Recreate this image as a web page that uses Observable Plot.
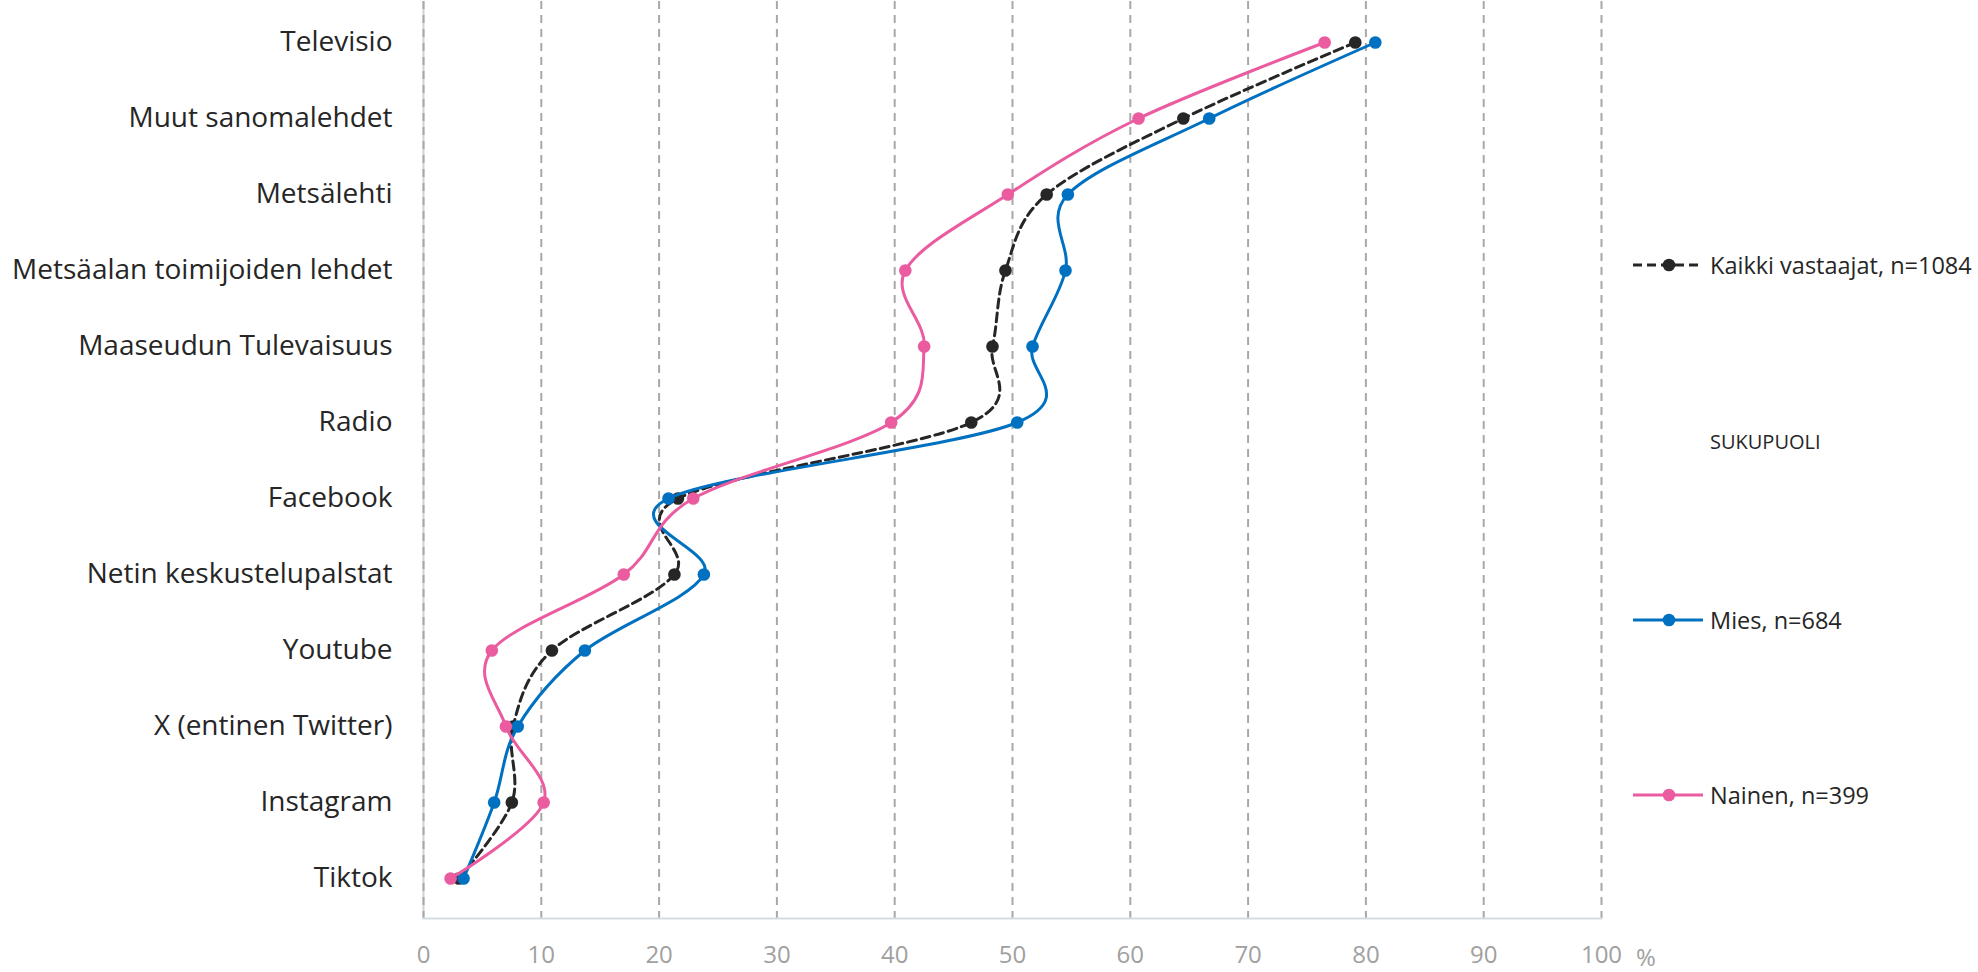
<!DOCTYPE html>
<html>
<head>
<meta charset="utf-8">
<script src="https://cdn.jsdelivr.net/npm/d3@7"></script>
<script src="https://cdn.jsdelivr.net/npm/@observablehq/plot@0.6"></script>
<style>
  body { margin: 0; background: #fff; font-family: "Open Sans", sans-serif; }
  #wrap { position: relative; width: 1978px; height: 972px; overflow: hidden; background: #fff; }
  .leg { position: absolute; left: 1633px; height: 32px; display: flex; align-items: center; font-size: 23.5px; color: #262626; white-space: nowrap; }
  .leg span { margin-left: 7px; line-height: 32px; }
  .legtitle { position: absolute; left: 1710px; font-size: 20px; color: #262626; line-height: 28px; }
  .pct { position: absolute; left: 1636px; top: 940px; font-size: 24px; color: #a0a0a0; line-height: 34px; }
</style>
</head>
<body>
<div id="wrap"></div>
<script>
const categories = ["Televisio", "Muut sanomalehdet", "Metsälehti", "Metsäalan toimijoiden lehdet", "Maaseudun Tulevaisuus", "Radio", "Facebook", "Netin keskustelupalstat", "Youtube", "X (entinen Twitter)", "Instagram", "Tiktok"];
const kaikki = [79.1, 64.5, 52.9, 49.4, 48.3, 46.5, 21.6, 21.3, 10.9, 7.6, 7.5, 3.0];
const mies   = [80.8, 66.7, 54.7, 54.5, 51.7, 50.4, 20.8, 23.8, 13.7, 8.0, 6.0, 3.4];
const nainen = [76.5, 60.7, 49.6, 40.9, 42.5, 39.7, 22.9, 17.0, 5.8, 7.0, 10.2, 2.3];
const seriesNames = ["Kaikki vastaajat, n=1084", "Mies, n=684", "Nainen, n=399"];
const legendTitle = "SUKUPUOLI";
const xTicks = [0, 10, 20, 30, 40, 50, 60, 70, 80, 90, 100];
const unitLabel = "%";

const colors = { k: "#262626", m: "#0070c0", n: "#ea5ba0" };
const rows = (vals) => categories.map((c, i) => ({ cat: c, val: vals[i] }));
const dK = rows(kaikki), dM = rows(mies), dN = rows(nainen);

const plot = Plot.plot({
  width: 1978,
  height: 972,
  marginLeft: 423,
  marginRight: 377,
  marginTop: 1,
  marginBottom: 54,
  style: { fontFamily: "Open Sans, sans-serif", background: "#fff" },
  x: { domain: [0, 100] },
  y: { domain: categories, type: "point", padding: 0.5 },
  marks: [
    Plot.ruleX([0], { stroke: "#d0d0d0", strokeWidth: 2 }),
    Plot.ruleX(xTicks, { stroke: "#a8a8a8", strokeWidth: 2, strokeDasharray: "8,6" }),
    Plot.frame({ anchor: "bottom", stroke: "#d3dde1", strokeWidth: 2 }),
    Plot.axisX(xTicks, { tickSize: 0, tickPadding: 27, fontSize: 24, fill: "#a0a0a0", label: null }),
    Plot.axisY({ tickSize: 0, tickPadding: 31, fontSize: 28, fill: "#262626", label: null }),
    Plot.line(dK, { x: "val", y: "cat", stroke: colors.k, strokeWidth: 3, strokeDasharray: "9,5", curve: "cardinal", tension: 0 }),
    Plot.dot(dK, { x: "val", y: "cat", fill: colors.k, r: 6.3 }),
    Plot.line(dM, { x: "val", y: "cat", stroke: colors.m, strokeWidth: 3, curve: "cardinal", tension: 0 }),
    Plot.dot(dM, { x: "val", y: "cat", fill: colors.m, r: 6.3 }),
    Plot.line(dN, { x: "val", y: "cat", stroke: colors.n, strokeWidth: 3, curve: "cardinal", tension: 0 }),
    Plot.dot(dN, { x: "val", y: "cat", fill: colors.n, r: 6.3 })
  ]
});
const wrap = document.getElementById("wrap");
wrap.appendChild(plot);

function legendItem(name, color, dashed, cy) {
  const div = document.createElement("div");
  div.className = "leg";
  div.style.top = (cy - 16) + "px";
  div.innerHTML = `<svg width="70" height="32"><line x1="0" x2="70" y1="16" y2="16" stroke="${color}" stroke-width="3" ${dashed ? 'stroke-dasharray="9,5"' : ""}/><circle cx="36" cy="16" r="6.3" fill="${color}"/></svg><span>${name}</span>`;
  wrap.appendChild(div);
}
legendItem(seriesNames[0], colors.k, true, 265);
legendItem(seriesNames[1], colors.m, false, 620);
legendItem(seriesNames[2], colors.n, false, 795);
const t = document.createElement("div");
t.className = "legtitle";
t.style.top = (442 - 14) + "px";
t.textContent = legendTitle;
wrap.appendChild(t);
const p = document.createElement("div");
p.className = "pct";
p.textContent = unitLabel;
wrap.appendChild(p);
</script>
</body>
</html>
